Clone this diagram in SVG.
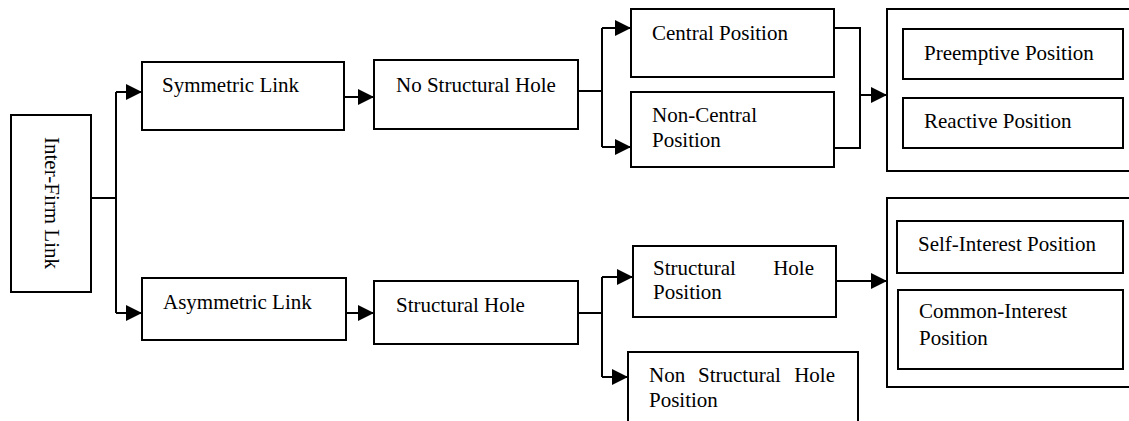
<svg xmlns="http://www.w3.org/2000/svg" width="1129" height="421" viewBox="0 0 1129 421">
<style>
.box{fill:#fff;stroke:#000;stroke-width:2}
.t{font-family:"Liberation Serif","Times New Roman",serif;font-size:21px;fill:#000}
.c{fill:none;stroke:#000;stroke-width:2}
</style>
<defs>
<marker id="ah" markerUnits="userSpaceOnUse" markerWidth="17" markerHeight="16" refX="16" refY="8" orient="auto">
<path d="M0,0 L16,8 L0,16 Z" fill="#000"/>
</marker>
</defs>
<rect width="1129" height="421" fill="#fff"/>
<g id="connectors">
<path class="c" d="M91,198 H116 M116,92 V313"/>
<path class="c" d="M116,92 H142" marker-end="url(#ah)"/>
<path class="c" d="M116,313 H142" marker-end="url(#ah)"/>
<path class="c" d="M344,97 H374" marker-end="url(#ah)"/>
<path class="c" d="M346,313 H374" marker-end="url(#ah)"/>
<path class="c" d="M578,91 H602 M602,28 V147"/>
<path class="c" d="M602,28 H631" marker-end="url(#ah)"/>
<path class="c" d="M602,147 H631" marker-end="url(#ah)"/>
<path class="c" d="M834,28 H860 V148 H834"/>
<path class="c" d="M860,95 H887" marker-end="url(#ah)"/>
<path class="c" d="M578,313 H602 M602,277 V377"/>
<path class="c" d="M602,277 H633" marker-end="url(#ah)"/>
<path class="c" d="M602,377 H628" marker-end="url(#ah)"/>
<path class="c" d="M836,281 H887" marker-end="url(#ah)"/>
</g>
<g id="inter-firm">
<rect class="box" x="11" y="115" width="80" height="177"/>
<text class="t" transform="translate(45,137) rotate(90)">Inter-Firm Link</text>
</g>
<g id="symmetric">
<rect class="box" x="142" y="62" width="202" height="68"/>
<text class="t" x="162" y="92">Symmetric Link</text>
</g>
<g id="asymmetric">
<rect class="box" x="142" y="278" width="204" height="62"/>
<text class="t" x="163" y="309">Asymmetric Link</text>
</g>
<g id="no-structural-hole">
<rect class="box" x="374" y="60" width="204" height="69"/>
<text class="t" x="396" y="92">No Structural Hole</text>
</g>
<g id="structural-hole">
<rect class="box" x="374" y="281" width="204" height="63"/>
<text class="t" x="396" y="312">Structural Hole</text>
</g>
<g id="central">
<rect class="box" x="631" y="9" width="203" height="68"/>
<text class="t" x="652" y="40">Central Position</text>
</g>
<g id="non-central">
<rect class="box" x="631" y="92" width="203" height="75"/>
<text class="t" x="652" y="122">Non-Central</text>
<text class="t" x="652" y="147">Position</text>
</g>
<g id="structural-hole-position">
<rect class="box" x="633" y="246" width="203" height="71"/>
<text class="t" x="653" y="275">Structural</text>
<text class="t" x="814" y="275" text-anchor="end">Hole</text>
<text class="t" x="653" y="299">Position</text>
</g>
<g id="non-structural-hole-position">
<rect class="box" x="628" y="352" width="230" height="80"/>
<text class="t" x="649" y="382">Non</text>
<text class="t" x="698" y="382">Structural</text>
<text class="t" x="835" y="382" text-anchor="end">Hole</text>
<text class="t" x="649" y="407">Position</text>
</g>
<g id="outcome-top">
<rect class="box" x="887" y="9" width="250" height="162"/>
<rect class="box" x="903" y="29" width="220" height="50"/>
<text class="t" x="924" y="60">Preemptive Position</text>
<rect class="box" x="903" y="98" width="220" height="50"/>
<text class="t" x="924" y="128">Reactive Position</text>
</g>
<g id="outcome-bottom">
<rect class="box" x="887" y="198" width="250" height="189"/>
<rect class="box" x="897" y="221" width="226" height="52"/>
<text class="t" x="918" y="251">Self-Interest Position</text>
<rect class="box" x="898" y="290" width="225" height="79"/>
<text class="t" x="919" y="318">Common-Interest</text>
<text class="t" x="919" y="345">Position</text>
</g>
</svg>
